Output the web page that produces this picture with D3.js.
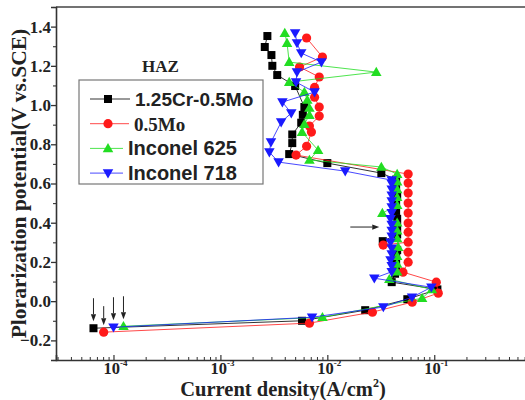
<!DOCTYPE html>
<html>
<head>
<meta charset="utf-8">
<script src="https://cdn.jsdelivr.net/npm/d3@7"></script>
<style>
  html, body { margin: 0; padding: 0; background: #fff; }
  svg { display: block; }
</style>
</head>
<body>
<div id="chart"></div>
<script>
// Anodic polarization curves of HAZ specimens: potential (V vs. SCE) against current density (A/cm²)
const seriesNames = ["1.25Cr-0.5Mo", "0.5Mo", "Inconel 625", "Inconel 718"];
const seriesColors = ["#000000", "#ff1a1a", "#22dd22", "#1a1aff"];
const seriesShapes = ["square", "circle", "triangle", "triangleDown"];

// 1.25Cr-0.5Mo
const crPotential = [-0.138, -0.100, -0.046, 0.010, 0.060, 0.097, 0.14, 0.18, 0.22, 0.26, 0.306, 0.34, 0.38, 0.42, 0.46, 0.50, 0.54, 0.58, 0.62, 0.653, 0.704, 0.750, 0.806, 0.850, 0.910, 0.950, 0.990, 1.097, 1.153, 1.200, 1.255, 1.296, 1.352];
const crCurrent   = [6.5e-5, 5.8e-3, 0.0226, 0.056, 0.107, 0.040, 0.043, 0.044, 0.044, 0.045, 0.033, 0.045, 0.045, 0.045, 0.044, 0.044, 0.045, 0.044, 0.044, 0.032, 0.010, 4.4e-3, 4.7e-3, 4.7e-3, 5.7e-3, 5.9e-3, 6.1e-3, 5.0e-3, 3.4e-3, 3.06e-3, 3.0e-3, 2.6e-3, 2.75e-3];

// 0.5Mo
const moPotential = [-0.158, -0.112, -0.056, -0.005, 0.041, 0.097, 0.148, 0.199, 0.250, 0.286, 0.301, 0.352, 0.398, 0.449, 0.500, 0.551, 0.602, 0.648, 0.745, 0.790, 0.862, 0.893, 0.944, 0.990, 1.040, 1.090, 1.143, 1.194, 1.245, 1.342];
const moCurrent   = [8.1e-5, 6.8e-3, 0.0264, 0.0622, 0.109, 0.1045, 0.051, 0.057, 0.057, 0.0333, 0.057, 0.057, 0.057, 0.057, 0.057, 0.057, 0.057, 0.057, 5.1e-3, 6.4e-3, 7.1e-3, 6.8e-3, 8.4e-3, 8.4e-3, 7.6e-3, 7.6e-3, 8.4e-3, 5.5e-3, 9.0e-3, 6.4e-3];

// Inconel 625
const in625Potential = [-0.128, -0.082, 0.015, 0.060, 0.112, 0.15, 0.19, 0.23, 0.276, 0.32, 0.36, 0.40, 0.449, 0.49, 0.53, 0.57, 0.61, 0.648, 0.684, 0.720, 0.770, 0.862, 0.903, 0.949, 0.985, 1.026, 1.066, 1.117, 1.168, 1.219, 1.316, 1.367];
const in625Current   = [1.24e-4, 9.0e-3, 0.077, 0.095, 0.038, 0.045, 0.045, 0.045, 0.046, 0.045, 0.045, 0.045, 0.0327, 0.045, 0.045, 0.045, 0.045, 0.045, 0.032, 6.8e-3, 8.2e-3, 5.8e-3, 6.1e-3, 6.8e-3, 6.8e-3, 6.5e-3, 6.1e-3, 4.4e-3, 0.0287, 4.4e-3, 4.2e-3, 4.0e-3];

// Inconel 718
const in718Potential = [-0.133, -0.082, -0.030, 0.020, 0.071, 0.117, 0.15, 0.18, 0.21, 0.24, 0.27, 0.30, 0.33, 0.36, 0.39, 0.42, 0.45, 0.48, 0.51, 0.54, 0.57, 0.60, 0.617, 0.663, 0.709, 0.760, 0.811, 0.913, 0.959, 1.015, 1.066, 1.117, 1.168, 1.219, 1.265, 1.316, 1.367];
const in718Current   = [1.0e-4, 7.2e-3, 0.0334, 0.062, 0.094, 0.0275, 0.040, 0.040, 0.039, 0.040, 0.040, 0.039, 0.040, 0.040, 0.040, 0.039, 0.040, 0.040, 0.040, 0.040, 0.040, 0.040, 0.040, 0.0147, 3.5e-3, 2.87e-3, 2.97e-3, 3.7e-3, 4.6e-3, 3.8e-3, 7.6e-3, 5.1e-3, 5.2e-3, 8.8e-3, 5.7e-3, 5.2e-3, 5.0e-3];

const potentialSeries = [crPotential, moPotential, in625Potential, in718Potential];
const currentSeries = [crCurrent, moCurrent, in625Current, in718Current];

// Axis ticks
const yTickValues = [-0.2, 0.0, 0.2, 0.4, 0.6, 0.8, 1.0, 1.2, 1.4];
const yMinorTickValues = [-0.3, -0.1, 0.1, 0.3, 0.5, 0.7, 0.9, 1.1, 1.3, 1.5];
const xMajorExponents = [-4, -3, -2, -1];

// Annotation: the passive-region arrow (current from → to, at a potential)
const passiveArrowCurrent = [0.0164, 0.0306];
const passiveArrowPotential = 0.378;

const width = 525, height = 400;
const svg = d3.select("#chart").append("svg")
  .attr("width", width).attr("height", height)
  .attr("viewBox", `0 0 ${width} ${height}`);

const plotLeft = 56, plotTop = 7, plotBottom = 360;
const x = d3.scaleLog().domain([2.9e-5, 1.6]).range([plotLeft, 563]);
const y = d3.scaleLinear().domain([-0.3, 1.5]).range([plotBottom, plotTop]);

const serif = "'Liberation Serif', 'Times New Roman', serif";
const sans = "'Liberation Sans', Arial, sans-serif";

// Frame: top border
svg.append("line").attr("x1", plotLeft).attr("x2", width).attr("y1", plotTop).attr("y2", plotTop)
  .attr("stroke", "#444").attr("stroke-width", 1.6);

// Y axis
const yAxis = svg.append("g").attr("transform", `translate(${plotLeft},0)`)
  .call(d3.axisLeft(y).tickValues(yTickValues).tickSize(5).tickPadding(0)
    .tickFormat(d3.format(".1f")));
yAxis.select(".domain").attr("stroke", "#333").attr("stroke-width", 1.6);
yAxis.selectAll(".tick line").attr("stroke", "#333").attr("stroke-width", 1.3);
yAxis.selectAll("text").attr("font-family", serif).attr("font-weight", "bold")
  .attr("font-size", 17).attr("fill", "#222");
svg.append("g").attr("transform", `translate(${plotLeft},0)`)
  .call(d3.axisLeft(y).tickValues(yMinorTickValues).tickSize(3).tickFormat(""))
  .call(g => g.select(".domain").remove())
  .selectAll(".tick line").attr("stroke", "#333").attr("stroke-width", 1.1);

// X axis (ticks point inward)
const xMinor = [];
for (let e = -5; e <= 0; e++) for (let m = 2; m <= 9; m++) {
  const v = m * Math.pow(10, e);
  if (v > x.domain()[0] && v < x.domain()[1]) xMinor.push(v);
}
const xAxis = svg.append("g").attr("transform", `translate(0,${plotBottom})`)
  .call(d3.axisBottom(x).tickValues(xMajorExponents.map(e => Math.pow(10, e)))
    .tickSize(-5).tickFormat(""));
xAxis.select(".domain").attr("stroke", "#333").attr("stroke-width", 1.6);
xAxis.selectAll(".tick line").attr("stroke", "#333").attr("stroke-width", 1.2);
svg.append("g").attr("transform", `translate(0,${plotBottom})`)
  .call(d3.axisBottom(x).tickValues(xMinor).tickSize(-3).tickFormat(""))
  .call(g => g.select(".domain").remove())
  .selectAll(".tick line").attr("stroke", "#333").attr("stroke-width", 1);

// X tick labels as 10 with superscript exponent
xMajorExponents.forEach(e => {
  const t = svg.append("text")
    .attr("x", x(Math.pow(10, e)) + 2).attr("y", plotBottom + 14)
    .attr("text-anchor", "middle")
    .attr("font-family", serif).attr("font-weight", "bold").attr("fill", "#222");
  t.append("tspan").attr("font-size", 16.5).text("10");
  t.append("tspan").attr("font-size", 9).attr("dy", -8).text(String(e));
});

// Axis titles
svg.append("text")
  .attr("transform", `translate(26,${(plotTop + plotBottom) / 2}) rotate(-90)`)
  .attr("text-anchor", "middle")
  .attr("font-family", serif).attr("font-weight", "bold").attr("font-size", 21.5)
  .attr("fill", "#222")
  .text("Plorarization potential(V vs.SCE)");

const xt = svg.append("text")
  .attr("x", 283).attr("y", 396).attr("text-anchor", "middle")
  .attr("font-family", serif).attr("font-weight", "bold").attr("fill", "#222");
xt.append("tspan").attr("font-size", 20.5).text("Current density(A/cm");
xt.append("tspan").attr("font-size", 12).attr("dy", -9).text("2");
xt.append("tspan").attr("font-size", 20.5).attr("dy", 9).text(")");

// Marker drawing
function drawMarker(g, shape, color, cx, cy) {
  if (shape === "square") {
    g.append("rect").attr("x", cx - 4).attr("y", cy - 4).attr("width", 8).attr("height", 8)
      .attr("fill", color);
  } else if (shape === "circle") {
    g.append("circle").attr("cx", cx).attr("cy", cy).attr("r", 4.6).attr("fill", color);
  } else {
    const sym = d3.symbol().type(d3.symbolTriangle).size(48);
    g.append("path").attr("d", sym())
      .attr("transform", `translate(${cx},${cy + (shape === "triangle" ? 0.8 : -0.8)}) rotate(${shape === "triangle" ? 0 : 180})`)
      .attr("fill", color);
  }
}

// Series lines and markers
const line = d3.line().x(d => x(d[0])).y(d => y(d[1]));
seriesNames.forEach((name, i) => {
  const pts = currentSeries[i].map((c, k) => [c, potentialSeries[i][k]]);
  const g = svg.append("g");
  g.append("path").attr("d", line(pts)).attr("fill", "none")
    .attr("stroke", seriesColors[i]).attr("stroke-width", 1).attr("stroke-opacity", 0.8);
  pts.forEach(p => drawMarker(g, seriesShapes[i], seriesColors[i], x(p[0]), y(p[1])));
});

// Arrows marking the corrosion potentials
function arrow(x1, y1, x2, y2) {
  const ang = Math.atan2(y2 - y1, x2 - x1);
  const len = 7, half = 2.6;
  const bx = x2 - len * Math.cos(ang), by = y2 - len * Math.sin(ang);
  svg.append("line").attr("x1", x1).attr("y1", y1).attr("x2", bx).attr("y2", by)
    .attr("stroke", "#222").attr("stroke-width", 1);
  svg.append("path")
    .attr("d", `M${x2},${y2}L${bx - half * Math.sin(ang)},${by + half * Math.cos(ang)}L${bx + half * Math.sin(ang)},${by - half * Math.cos(ang)}Z`)
    .attr("fill", "#222");
}
seriesNames.forEach((n, i) => {
  const cx = x(currentSeries[i][0]);
  const cy = y(potentialSeries[i][0]);
  arrow(cx, cy - 30 + (i === 1 ? 4 : 0), cx, cy - 7);
});
arrow(x(passiveArrowCurrent[0]), y(passiveArrowPotential), x(passiveArrowCurrent[1]), y(passiveArrowPotential));

// HAZ label
svg.append("text").attr("x", 142).attr("y", 72)
  .attr("font-family", serif).attr("font-weight", "bold").attr("font-size", 17)
  .attr("fill", "#222").text("HAZ");

// Legend
const lg = svg.append("g");
lg.append("rect").attr("x", 79).attr("y", 80).attr("width", 184).attr("height", 104)
  .attr("fill", "#fff").attr("stroke", "#777").attr("stroke-width", 1.2);
const legendFonts = [sans, serif, sans, sans];
const legendSizes = [19, 19, 20, 20];
const textX = [135, 134, 128, 128];
seriesNames.forEach((name, i) => {
  const ry = 99 + i * 24.7;
  lg.append("line").attr("x1", 90).attr("x2", textX[i] - 5).attr("y1", ry).attr("y2", ry)
    .attr("stroke", seriesColors[i]).attr("stroke-width", 1).attr("stroke-opacity", 0.8);
  drawMarker(lg, seriesShapes[i], seriesColors[i], 108, ry);
  lg.append("text").attr("x", textX[i]).attr("y", ry + 7)
    .attr("font-family", legendFonts[i]).attr("font-weight", "bold")
    .attr("font-size", legendSizes[i]).attr("fill", "#222").text(name);
});
</script>
</body>
</html>
